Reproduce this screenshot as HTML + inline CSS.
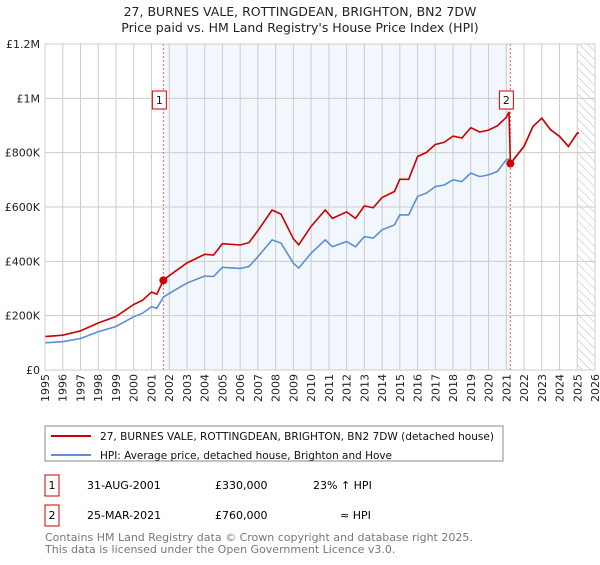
<!DOCTYPE html>
<html><head><meta charset="utf-8"><style>
body{margin:0;background:#fff;font-family:"Liberation Sans","DejaVu Sans",sans-serif;}
svg text{font-family:"DejaVu Sans","Liberation Sans",sans-serif;}
</style></head><body>
<svg id="c" width="600" height="560" viewBox="0 0 600 560">
<defs><pattern id="hatch" width="6" height="6" patternUnits="userSpaceOnUse" patternTransform="rotate(-45)"><line x1="0" y1="0" x2="0" y2="6" stroke="#bbb" stroke-width="1"/></pattern></defs>
<text x="300" y="16" text-anchor="middle" font-size="12.5" fill="#222">27, BURNES VALE, ROTTINGDEAN, BRIGHTON, BN2 7DW</text>
<text x="300" y="32" text-anchor="middle" font-size="12.5" fill="#222">Price paid vs. HM Land Registry's House Price Index (HPI)</text>
<g id="plot"></g>
<rect x="45" y="426" width="458" height="35" fill="#fff" stroke="#888"/>
<line x1="51" y1="436" x2="91" y2="436" stroke="#cc0000" stroke-width="2"/>
<text x="100" y="440" font-size="10.5" fill="#111" textLength="394" lengthAdjust="spacingAndGlyphs">27, BURNES VALE, ROTTINGDEAN, BRIGHTON, BN2 7DW (detached house)</text>
<line x1="51" y1="455" x2="91" y2="455" stroke="#5b8fd4" stroke-width="2"/>
<text x="100" y="459" font-size="10.5" fill="#111" textLength="292" lengthAdjust="spacingAndGlyphs">HPI: Average price, detached house, Brighton and Hove</text>
<g>
<rect x="45" y="475" width="14" height="21" fill="#fff" stroke="#cc0000"/>
<text x="52" y="489" text-anchor="middle" font-size="11">1</text>
<text x="87" y="489" font-size="11">31-AUG-2001</text>
<text x="215" y="489" font-size="11">£330,000</text>
<text x="313" y="489" font-size="11">23% ↑ HPI</text></g>
<g>
<rect x="45" y="505" width="14" height="21" fill="#fff" stroke="#cc0000"/>
<text x="52" y="519" text-anchor="middle" font-size="11">2</text>
<text x="87" y="519" font-size="11">25-MAR-2021</text>
<text x="215" y="519" font-size="11">£760,000</text>
<text x="340" y="519" font-size="11">≈ HPI</text></g>
<text x="45" y="541" font-size="11" fill="#777">Contains HM Land Registry data © Crown copyright and database right 2025.</text>
<text x="45" y="553" font-size="11" fill="#777">This data is licensed under the Open Government Licence v3.0.</text>
</svg>
<script>
const hpiYears=[1995,1996,1997,1998,1999,2000,2000.5,2001,2001.3,2001.67,2002,2003,2004,2004.5,2005,2006,2006.5,2007,2007.8,2008.3,2009,2009.3,2010,2010.8,2011.2,2012,2012.5,2013,2013.5,2014,2014.7,2015,2015.5,2016,2016.5,2017,2017.5,2018,2018.5,2019,2019.5,2020,2020.5,2021,2021.15,2021.23,2022,2022.5,2023,2023.5,2024,2024.5,2025,2025.1];
const hpiValues=[100,104,116,141,160,196,209,233,227,268,282,320,346,344,378,374,381,417,479,467,393,375,430,479,454,473,454,491,485,516,534,571,571,639,651,675,681,700,694,725,712,718,731,774,776,760,823,896,927,884,860,823,872,872];
const priceYears=[1995,1996,1997,1998,1999,2000,2000.5,2001,2001.3,2001.67,2002,2003,2004,2004.5,2005,2006,2006.5,2007,2007.8,2008.3,2009,2009.3,2010,2010.8,2011.2,2012,2012.5,2013,2013.5,2014,2014.7,2015,2015.5,2016,2016.5,2017,2017.5,2018,2018.5,2019,2019.5,2020,2020.5,2021,2021.15,2021.23,2022,2022.5,2023,2023.5,2024,2024.5,2025,2025.1];
const priceValues=[123,128,144,173,197,241,257,287,279,330,347,394,426,423,465,460,469,513,589,574,483,461,529,589,558,582,558,604,597,635,657,702,702,786,801,830,838,861,854,892,876,883,899,930,950,760,823,896,927,884,860,823,872,872];
const saleYears=[2001.67,2021.23];
const saleValues=[330,760];
const saleLabels=["1","2"];
const yTicks=[0,200,400,600,800,1000,1200];
const yTickLabels=["£0","£200K","£400K","£600K","£800K","£1M","£1.2M"];
const xTicks=[1995,1996,1997,1998,1999,2000,2001,2002,2003,2004,2005,2006,2007,2008,2009,2010,2011,2012,2013,2014,2015,2016,2017,2018,2019,2020,2021,2022,2023,2024,2025,2026];

const X0=45,X1=595,Y0=370,Y1=44;
const xs=y=>X0+(y-1995)/(2026-1995)*(X1-X0);
const ys=v=>Y0-v/1200*(Y0-Y1);
const NS="http://www.w3.org/2000/svg";
const g=document.getElementById('plot');
function el(t,a,p){const e=document.createElementNS(NS,t);for(const k in a)e.setAttribute(k,a[k]);(p||g).appendChild(e);return e;}
const bg=el('rect',{x:X0,y:Y1,width:X1-X0,height:Y0-Y1,fill:'#fff'});


const sh=el('rect',{x:xs(saleYears[0]),y:Y1,width:xs(saleYears[1])-xs(saleYears[0]),height:Y0-Y1,fill:'#f2f6fd'});


const ht=el('rect',{x:xs(2025),y:Y1,width:X1-xs(2025),height:Y0-Y1,fill:'url(#hatch)'});


xTicks.forEach(t=>{
 const l=el('line',{x1:xs(t),x2:xs(t),y1:Y1,y2:Y0,stroke:'#ccc','stroke-width':1});
 
 
 const tx=el('text',{x:0,y:0,'font-size':11,fill:'#222','text-anchor':'end',transform:`translate(${xs(t)+4},${Y0+4}) rotate(-90)`});
 tx.textContent=t;
 
 
});
yTicks.forEach((t,i)=>{
 const l=el('line',{x1:X0,x2:X1,y1:ys(t),y2:ys(t),stroke:'#ccc','stroke-width':1});
 
 
 const tx=el('text',{x:40,y:ys(t)+4,'font-size':11,fill:'#222','text-anchor':'end'});
 tx.textContent=yTickLabels[i];
 
 
});
saleYears.forEach((s,i)=>{
 const l=el('line',{x1:xs(s),x2:xs(s),y1:Y1,y2:Y0,stroke:'#e06666','stroke-width':1,'stroke-dasharray':'2,2'});
 
 
});
function path(xa,va,col,name){
 const d=xa.map((x,i)=>(i?'L':'M')+xs(x).toFixed(1)+','+ys(va[i]).toFixed(1)).join('');
 const p=el('path',{d:d,fill:'none',stroke:col,'stroke-width':1.6});
 
 
}
path(hpiYears,hpiValues,'#5b8fd4','hpi-line');
path(priceYears,priceValues,'#cc0000','price-line');
saleYears.forEach((s,i)=>{
 const c=el('circle',{cx:xs(s),cy:ys(saleValues[i]),r:4,fill:'#cc0000'});
 
 
 const bx=xs(s)-11;
 const r=el('rect',{x:bx,y:91,width:14,height:18,fill:'#fff',stroke:'#cc0000'});
 
 
 const t=el('text',{x:bx+7,y:104,'font-size':11,'text-anchor':'middle',fill:'#111'});
 t.textContent=saleLabels[i];
 
 
});
const bd=el('rect',{x:X0,y:Y1,width:X1-X0,height:Y0-Y1,fill:'none',stroke:'#ccc'});


</script>
</body></html>
